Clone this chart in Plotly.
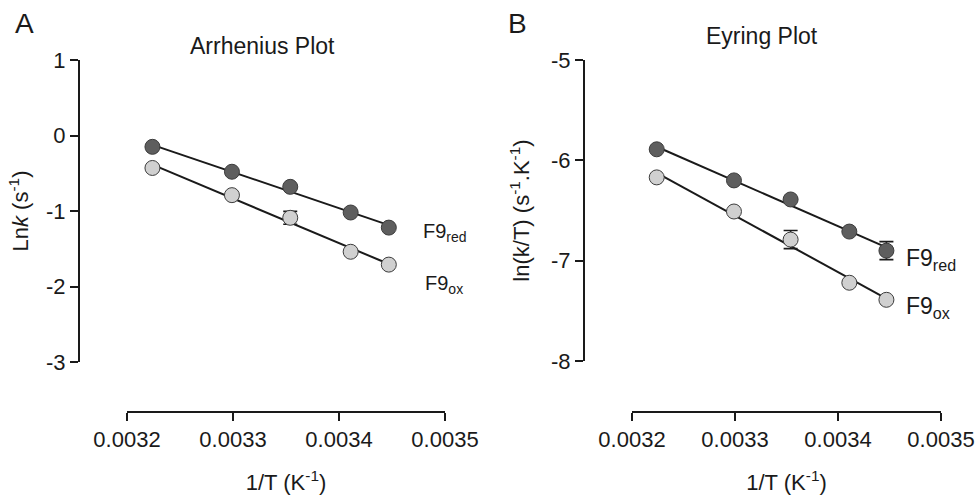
import numpy as np
import plotly.graph_objects as go

# ---------------- data ----------------
inv_T = [0.003224, 0.003299, 0.003354, 0.003411, 0.003447]   # 1/T (K^-1)

# Panel A: Arrhenius
lnk_red = [-0.15, -0.48, -0.68, -1.02, -1.22]
lnk_ox = [-0.43, -0.79, -1.09, -1.54, -1.71]
lnk_red_err = [None, None, None, None, None]
lnk_ox_err = [None, None, 0.085, None, None]

# Panel B: Eyring
eyr_red = [-5.89, -6.20, -6.39, -6.71, -6.90]
eyr_ox = [-6.17, -6.51, -6.79, -7.22, -7.39]
eyr_red_err = [None, None, None, None, 0.09]
eyr_ox_err = [None, None, 0.09, None, None]

x_tickvals = [0.0032, 0.0033, 0.0034, 0.0035]
x_ticktext = ["0.0032", "0.0033", "0.0034", "0.0035"]
yA_tickvals = [-3, -2, -1, 0, 1]
yA_ticktext = ["-3", "-2", "-1", "0", "1"]
yB_tickvals = [-8, -7, -6, -5]
yB_ticktext = ["-8", "-7", "-6", "-5"]

# ---------------- styling ----------------
W, H = 976, 496
FONT = "Liberation Sans, Arial, Helvetica, sans-serif"
INK = "#1a1a1a"
DARK = "#5e5e5e"
LIGHT = "#d0d0d0"
EDGE = "#3c3c3c"


def px(x):
    return x / W


def py(y):
    return 1 - y / H


fig = go.Figure()


def add_panel(xa, ya, red, ox, red_err, ox_err):
    xs = np.array(inv_T)
    for vals in (red, ox):
        m, b = np.polyfit(xs, np.array(vals), 1)
        xl = np.array([xs.min(), xs.max()])
        fig.add_trace(go.Scatter(x=xl, y=m * xl + b, mode="lines",
                                 line=dict(color=INK, width=2),
                                 xaxis=xa, yaxis=ya, showlegend=False,
                                 hoverinfo="skip"))
    for vals, err, col in ((red, red_err, DARK), (ox, ox_err, LIGHT)):
        e = [np.nan if v is None else v for v in err]
        fig.add_trace(go.Scatter(
            x=inv_T, y=vals, mode="markers",
            marker=dict(size=15, color=col, line=dict(color=EDGE, width=1)),
            error_y=dict(type="data", array=e, visible=True, color=INK,
                         thickness=1.6, width=7),
            xaxis=xa, yaxis=ya, showlegend=False))


add_panel("x", "y", lnk_red, lnk_ox, lnk_red_err, lnk_ox_err)
add_panel("x2", "y2", eyr_red, eyr_ox, eyr_red_err, eyr_ox_err)

common_axis = dict(showline=True, linecolor=INK, linewidth=2, ticks="outside",
                   ticklen=8, tickwidth=2, tickcolor=INK, showgrid=False,
                   zeroline=False, automargin=False,
                   tickfont=dict(family=FONT, size=22, color=INK))

fig.update_layout(
    width=W, height=H,
    margin=dict(l=0, r=0, t=0, b=0, autoexpand=False),
    paper_bgcolor="white", plot_bgcolor="white",
    font=dict(family=FONT, size=22, color=INK),
    xaxis=dict(domain=[px(127), px(445)], range=[0.0032, 0.0035],
               anchor="free", position=py(412),
               tickvals=x_tickvals, ticktext=x_ticktext,
               title=dict(text="1/T (K<sup>-1</sup>)", standoff=22,
                          font=dict(family=FONT, size=22, color=INK)),
               **common_axis),
    yaxis=dict(domain=[py(362), py(60)], range=[-3, 1],
               anchor="free", position=px(79),
               tickvals=yA_tickvals, ticktext=yA_ticktext,
               title=dict(text="Ln<i>k</i> (s<sup>-1</sup>)", standoff=10,
                          font=dict(family=FONT, size=22, color=INK)),
               **common_axis),
    xaxis2=dict(domain=[px(632), px(941)], range=[0.0032, 0.0035],
                anchor="free", position=py(412),
                tickvals=x_tickvals, ticktext=x_ticktext,
                title=dict(text="1/T (K<sup>-1</sup>)", standoff=22,
                           font=dict(family=FONT, size=22, color=INK)),
                **common_axis),
    yaxis2=dict(domain=[py(361), py(60)], range=[-8, -5],
                anchor="free", position=px(584),
                tickvals=yB_tickvals, ticktext=yB_ticktext,
                title=dict(text="ln(k/T) (s<sup>-1</sup>.K<sup>-1</sup>)", standoff=14,
                           font=dict(family=FONT, size=22, color=INK)),
                **common_axis),
)

annots = [
    dict(text="A", x=px(24.5), y=py(24), size=28),
    dict(text="B", x=px(517.5), y=py(24), size=28),
    dict(text="Arrhenius Plot", x=px(262), y=py(46), size=23),
    dict(text="Eyring Plot", x=px(762), y=py(36), size=23),
]
for a in annots:
    fig.add_annotation(text=a["text"], x=a["x"], y=a["y"], xref="paper", yref="paper",
                       xanchor="center", yanchor="middle", showarrow=False,
                       font=dict(family=FONT, size=a["size"], color=INK))

labels = [
    dict(text="F9<sub>red</sub>", x=px(421), y=py(232), size=20),
    dict(text="F9<sub>ox</sub>", x=px(423), y=py(284), size=20),
    dict(text="F9<sub>red</sub>", x=px(904), y=py(259), size=23),
    dict(text="F9<sub>ox</sub>", x=px(904), y=py(307), size=23),
]
for a in labels:
    fig.add_annotation(text=a["text"], x=a["x"], y=a["y"], xref="paper", yref="paper",
                       xanchor="left", yanchor="middle", showarrow=False,
                       font=dict(family=FONT, size=a["size"], color=INK))

fig.write_html("out.html")
